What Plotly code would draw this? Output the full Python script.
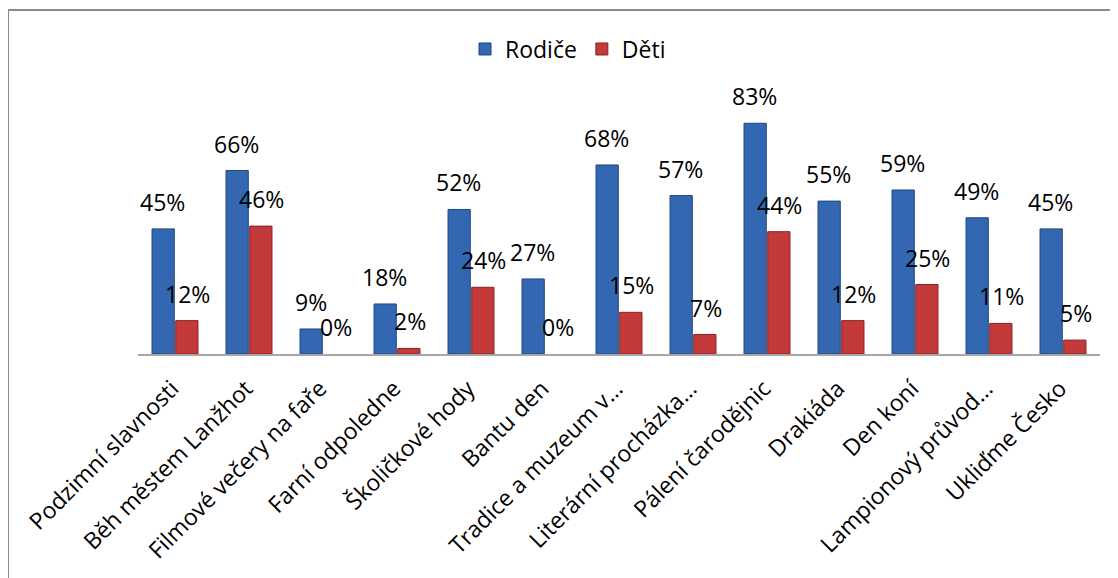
import plotly.graph_objects as go

categories = ["Podzimní slavnosti", "Běh městem Lanžhot", "Filmové večery na faře",
              "Farní odpoledne", "Školičkové hody", "Bantu den", "Tradice a muzeum v…",
              "Literární procházka…", "Pálení čarodějnic", "Drakiáda", "Den koní",
              "Lampionový průvod…", "Ukliďme Česko"]
rodice = [45, 66, 9, 18, 52, 27, 68, 57, 83, 55, 59, 49, 45]
deti = [12, 46, 0, 2, 24, 0, 15, 7, 44, 12, 25, 11, 5]
series_names = ["Rodiče", "Děti"]

FONT = "Open Sans"
BLUE, BLUE_EDGE = "#3467B2", "#1F4780"
RED, RED_EDGE = "#C43A3A", "#8A2020"

fig = go.Figure()
for name, vals, col, edge in ((series_names[0], rodice, BLUE, BLUE_EDGE),
                              (series_names[1], deti, RED, RED_EDGE)):
    fig.add_trace(go.Bar(x=categories, y=[v / 100 for v in vals], name=name,
                         marker=dict(color=col,
                                     line=dict(color=edge,
                                               width=[1 if v > 0 else 0 for v in vals]))))

annotations = []
for vals, shift in ((rodice, -12.5), (deti, 12.5)):
    for c, v in zip(categories, vals):
        annotations.append(dict(x=c, y=v / 100, xref="x", yref="y", text=f"{v}%",
                                showarrow=False, xshift=shift, yshift=27,
                                yanchor="middle", xanchor="center",
                                font=dict(family=FONT, size=23, color="#000")))

fig.update_layout(
    width=1110, height=570,
    margin=dict(l=130, r=18, t=68, b=224),
    paper_bgcolor="white", plot_bgcolor="white",
    barmode="group", bargap=0.36, bargroupgap=0.06,
    showlegend=True,
    legend=dict(orientation="h", x=0.447, xanchor="center", y=1.097, yanchor="middle",
                font=dict(family=FONT, size=23, color="#000"), traceorder="normal"),
    annotations=annotations,
    xaxis=dict(showline=True, linecolor="#A6A6A6", linewidth=2, ticks="",
               tickangle=-45, tickfont=dict(family=FONT, size=23, color="#000"),
               ticklabelstandoff=10, ticklabelshift=-3,
               showgrid=False),
    yaxis=dict(visible=False, range=[0, 1], showgrid=False),
    shapes=[dict(type="rect", xref="paper", yref="paper",
                 x0=-0.1351, x1=1.04, y0=-0.9, y1=1.2374,
                 line=dict(color="#8C8C8C", width=2), fillcolor="rgba(0,0,0,0)",
                 layer="below")],
)

fig.write_html("out.html")
